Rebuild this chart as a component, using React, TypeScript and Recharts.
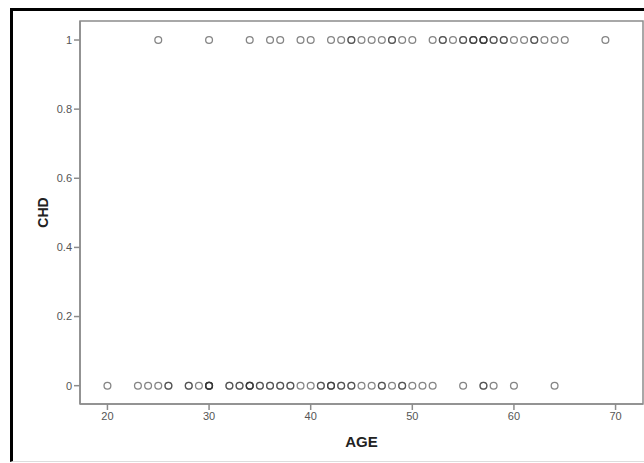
import React from 'react';
import { ScatterChart, Scatter, XAxis, YAxis, ReferenceArea } from 'recharts';

// ages of subjects without CHD (0) and with CHD (1), repeats kept so overlaps darken
const agesNoChd = [
  20, 23, 24, 25, 26, 26, 28, 28, 29, 30, 30, 30, 30, 30, 32, 32, 33, 33, 34, 34, 34, 34,
  35, 35, 36, 36, 37, 37, 38, 38, 39, 40, 41, 41, 42, 42, 42, 43, 43, 44, 44, 45, 46, 47,
  47, 48, 49, 49, 50, 51, 52, 55, 57, 57, 58, 60, 64,
];
const agesChd = [
  25, 30, 34, 36, 37, 39, 40, 42, 43, 44, 44, 45, 46, 47, 48, 48, 49, 50, 52, 53, 53, 54,
  55, 55, 56, 56, 56, 57, 57, 57, 57, 58, 58, 59, 59, 60, 61, 62, 62, 63, 64, 65, 69,
];
const xTicks = [20, 30, 40, 50, 60, 70];
const yTicks = [0, 0.2, 0.4, 0.6, 0.8, 1];

const X_DOMAIN: [number, number] = [17.3, 72.7];
const Y_DOMAIN: [number, number] = [-0.053, 1.055];

const points = [
  ...agesNoChd.map((age) => ({ age, chd: 0 })),
  ...agesChd.map((age) => ({ age, chd: 1 })),
];

const frameColor = '#8c8c8c';
const tickStyle = { fontSize: 11, fill: '#555', fontFamily: 'Liberation Sans, Arial, sans-serif' };

const Ring = (props: any) => {
  const { cx, cy } = props;
  if (cx == null || cy == null) return null;
  return <circle cx={cx} cy={cy} r={3.4} fill="none" stroke="#333" strokeOpacity={0.6} strokeWidth={1.3} />;
};

const fmtY = (v: number) => (v === 0 || v === 1 ? String(v) : v.toFixed(1));

export default function App() {
  return (
    <div style={{ position: 'relative', width: 644, height: 463, background: '#fff', overflow: 'hidden' }}>
      <style>{`body{margin:0}`}</style>
      <div
        style={{
          position: 'absolute',
          left: 10,
          top: 8,
          right: -5,
          bottom: 1,
          borderLeft: '3px solid #000',
          borderTop: '3px solid #000',
          borderBottom: '1px solid #ddd',
        }}
      />
      <div style={{ position: 'absolute', left: 0, top: 0 }}>
        <ScatterChart width={644} height={463} margin={{ top: 21, right: 1, bottom: 0, left: 0 }}>
          <ReferenceArea
            x1={X_DOMAIN[0]}
            x2={X_DOMAIN[1]}
            y1={Y_DOMAIN[0]}
            y2={Y_DOMAIN[1]}
            fill="none"
            stroke={frameColor}
            strokeWidth={1.5}
            fillOpacity={0}
          />
          <XAxis
            type="number"
            dataKey="age"
            domain={X_DOMAIN}
            ticks={xTicks}
            allowDataOverflow
            height={59}
            tickSize={6}
            tickMargin={2}
            tick={tickStyle}
            axisLine={{ stroke: frameColor, strokeWidth: 1.5 }}
            tickLine={{ stroke: frameColor, strokeWidth: 1.5 }}
            label={{
              value: 'AGE',
              position: 'insideBottom',
              offset: 16,
              style: { fontSize: 15, fontWeight: 'bold', fill: '#222', fontFamily: 'Liberation Sans, Arial, sans-serif' },
            }}
          />
          <YAxis
            type="number"
            dataKey="chd"
            domain={Y_DOMAIN}
            ticks={yTicks}
            allowDataOverflow
            width={80}
            tickSize={6}
            tickMargin={2}
            tick={tickStyle}
            tickFormatter={fmtY}
            axisLine={{ stroke: frameColor, strokeWidth: 1.5 }}
            tickLine={{ stroke: frameColor, strokeWidth: 1.5 }}
            label={{
              value: 'CHD',
              angle: -90,
              position: 'insideLeft',
              offset: 43,
              style: { textAnchor: 'middle', fontSize: 14, fontWeight: 'bold', fill: '#222', fontFamily: 'Liberation Sans, Arial, sans-serif' },
            }}
          />
          <Scatter data={points} shape={Ring} isAnimationActive={false} />
        </ScatterChart>
      </div>
    </div>
  );
}
